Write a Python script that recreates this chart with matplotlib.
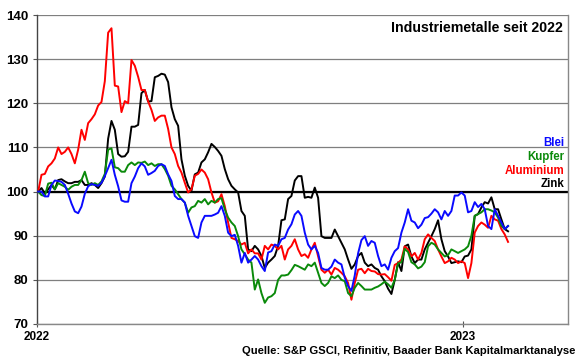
import pandas as pd
import matplotlib
matplotlib.use("Agg")
import matplotlib.pyplot as plt
import matplotlib.dates as mdates

# ---- index values (start 2022 = 100) ----
start_date = "2022-01-02"
step = "4112min"   # spacing between readings (~2.86 days)

blei = [100,
        100, 98.9, 98.9, 101.5, 102.5, 102.4, 102.2, 101.5, 99.5, 97.3, 95.5, 95.1, 96.6, 99.5, 101.2, 101.7,
        101.5, 101.3, 102, 103.5, 105.3, 107.2, 103.8, 101.2, 98, 97.7, 97.7, 101.9, 103.4, 105.3, 106.4, 105.7,
        103.8, 104.2,
        104.7, 105.8, 106.2, 105.8, 103.9, 102.4, 99, 98.3, 98.3, 97.5, 94.5, 92.2, 89.9, 89.5, 93, 94.5, 94.5,
        94.5, 94.8, 95.2, 96.7, 94.5, 90.7, 89.9, 90.2, 87.7, 83.9, 86.1, 83.9, 84.6, 85.4, 84.6, 83.1, 82, 86.2, 86.5,
        88, 87.7, 89.2, 89.5, 91.4, 92.6, 94.8, 95.6, 94.5, 90.7, 88, 86.9, 87.7, 86.1, 82.7, 82.3, 82.3, 83,
        84.6, 83.9, 83.5, 80.5, 78.6, 77.5, 81, 86, 89, 89.9, 87.7, 88.8, 88.4, 85.4, 83.1, 83.5, 82.3, 85,
        86.5, 87.2, 90.7, 93, 96, 93.4, 93, 91.7, 92.5, 94, 94.2, 95, 96, 95.3, 93.7, 95.6, 94.5, 95.6,
        99.1, 99.1, 99.8, 99.1, 95.3, 95.6, 97.6, 96.5, 97.2, 96, 92.2, 91.5, 96, 94.5, 93, 91.5, 92.2]

kupfer = [100,
          99.2, 99, 101.8, 102, 100.5, 101.9, 101.5, 101.1, 100.4, 101.1, 101.5, 101.5, 102.6, 104.5, 101.9, 101.5,
          101.9, 101.5, 102.3, 104, 109.5, 109.8, 105.5, 105.3, 104.5, 104.5, 106, 106.6, 106, 106.6, 106.5, 106.8,
          106, 106.4,
          105.8, 106.2, 106.2, 105.1, 103.6, 101.3, 100.5, 99.4, 98.3, 97.5, 95.2, 96.4, 96.7, 97.9, 97.5, 98.3,
          97.1, 97.9, 97.5, 98.3, 98.5, 96, 94.1, 93, 92.2, 89.9, 86.9, 85.8, 84.6, 83.9, 77.8, 80.1, 77, 74.8, 76, 76.3,
          77, 80, 81, 81, 81.2, 82.2, 83.4, 83.1, 82.7, 82.3, 83.5, 83.1, 83.9, 81.6, 79.3, 78.6, 79.3, 80.8,
          80.4, 81, 80, 79.7, 77, 76.3, 78.2, 79.3, 78.6, 77.8, 77.8, 77.8, 78.2, 78.5, 79, 79.6, 79, 78.2,
          80, 83.7, 84, 87, 86.3, 84, 83.5, 82.6, 83, 84, 87.6, 88.4, 88, 86.9, 86.1, 85.3, 85.6, 86.9,
          86.5, 86.1, 86.5, 86.9, 87.6, 90, 94.5, 94.9, 95.3, 96, 96, 95.7, 95.3, 94.1, 92.2, 91.5, 92.2]

aluminium = [100,
             103.8, 104, 105.7, 106.4, 107.5, 110, 108.5, 109, 110, 108.5, 106.4, 109.5, 114, 111.7, 115.5, 116.4,
             117.5, 119.5, 120.3, 125, 136, 137, 124, 123.8, 118, 120.5, 120, 129.8, 128.5, 126, 123, 123,
             120.4, 118.5,
             116, 116.8, 117.2, 117.2, 114.2, 110, 108.5, 105.8, 104.3, 102, 99.8, 100.5, 103.6, 104, 105, 104.3,
             102.8, 99.8, 97.5, 97.8, 99.4, 96.7, 93, 89.5, 89.2, 88.8, 88, 88.4, 86, 86.9, 86, 86, 84.6, 87.7, 86.9, 88,
             87.7, 86.9, 87.7, 84.6, 86.9, 87.7, 89.2, 86.9, 85.4, 85.8, 85, 86.9, 88.4, 85.4, 82.3, 81.6, 82.3, 81.2,
             82.7, 82.3, 81.6, 80.8, 79.3, 75.5, 79.3, 82.3, 82.5, 81.5, 82.5, 82, 81.9, 81.3, 81.2, 81.3, 80.6, 79.8,
             83.4, 83.8, 84.6, 87.6, 86.9, 85.3, 86.1, 84.6, 86.1, 89.2, 90.3, 89.5, 88.8, 86.9, 85.3, 83.8, 84.2, 85,
             84.6, 83.8, 84.2, 83.8, 80.4, 83.8, 90.7, 92.2, 93, 92.5, 91.8, 94.5, 93.7, 93.4, 91.5, 90.3, 88.6]

zink = [100,
        100.8, 99.6, 100.5, 101.5, 100.5, 102.6, 102.8, 102.3, 101.9, 101.9, 102.2, 102.2, 102.6, 101.5, 101.5, 101.9,
        101.5, 100.8, 101.9, 103.4, 112, 116, 114, 108.5, 107.9, 108, 109, 114.7, 114.7, 115.1, 122.3, 123,
        120.4, 120.5,
        125.9, 126.2, 126.7, 126.5, 124.8, 119.1, 116.4, 114.9, 107.3, 103.6, 101.3, 100.2, 103.9, 104.3, 106.6, 107.3,
        108.9, 110.8, 110.1, 109.2, 108.1, 105.1, 102.8, 101.3, 100.5, 99.8, 95.6, 94.5, 86.9, 86.5, 87.7, 86.9, 85.4,
        82.7, 83.9, 84.6,
        85.4, 87.7, 93.5, 93.7, 98.3, 99, 102.5, 103.5, 103.5, 98.6, 98.8, 98.6, 100.9, 98.6, 89.9, 89.5, 89.5, 89.5,
        91.4, 89.9, 88.4, 86.9, 84.6, 82.5, 83.5, 85.4, 86.1, 83.9, 83.1, 83.5, 82.7, 82.3, 80.8, 79.7, 78, 76.8,
        80, 84, 82, 87.6, 88, 85.3, 83.8, 84.6, 84.6, 86.9, 88.4, 89.9, 91.5, 93.5, 89.2, 86.5, 85.3, 83.8,
        84, 84.2, 84, 85.3, 85.5, 86.9, 94.5, 94.9, 96.4, 97.6, 97.3, 98.7, 96, 96, 93.7, 91.5, 91]

series_names = ["Blei", "Kupfer", "Aluminium", "Zink"]
series_colors = ["#0a0aff", "#0a8a0a", "#ff0000", "#000000"]

dates = pd.date_range(start_date, periods=len(zink), freq=step)
df = pd.DataFrame({"Blei": blei, "Kupfer": kupfer, "Aluminium": aluminium, "Zink": zink}, index=dates)

plt.rcParams["font.family"] = ["Liberation Sans", "DejaVu Sans"]

fig = plt.figure(figsize=(5.8, 3.59), dpi=100)
ax = fig.add_axes([37 / 580, 1 - 324 / 359, (568 - 37) / 580, (324 - 15) / 359])

# gridlines + the 100 line
for v in range(70, 141, 10):
    ax.axhline(v, color="#7f7f7f", lw=0.9, zorder=1)
ax.axhline(100, color="black", lw=1.6, zorder=2)

# draw Zink first so the others sit on top
for name in ["Zink", "Aluminium", "Kupfer", "Blei"]:
    c = series_colors[series_names.index(name)]
    ax.plot(df.index, df[name], color=c, lw=1.4, zorder=3)

ax.set_xlim(pd.Timestamp("2022-01-01"), pd.Timestamp("2023-04-01"))
ax.set_ylim(70, 140)
ax.set_yticks(range(70, 141, 10))
ax.set_xticks([pd.Timestamp("2022-01-01"), pd.Timestamp("2023-01-01")])
ax.xaxis.set_major_formatter(mdates.DateFormatter("%Y"))

for lab in ax.get_yticklabels():
    lab.set_fontweight("bold")
    lab.set_fontsize(9.5)
for lab in ax.get_xticklabels():
    lab.set_fontweight("bold")
    lab.set_fontsize(8.5)
ax.tick_params(axis="y", length=3, color="#555555", pad=3)
ax.tick_params(axis="x", length=4, color="#555555", pad=3, direction="inout")

ax.spines["top"].set_visible(False)
ax.spines["left"].set_color("#444444")
ax.spines["right"].set_color("#888888")
ax.spines["bottom"].set_color("#888888")
for s in ax.spines.values():
    s.set_linewidth(1.0)

# title and colored labels
fig.text(563 / 580, 1 - 28 / 359, "Industriemetalle seit 2022", ha="right", va="center",
         fontsize=10.2, fontweight="bold")
label_y = [143, 157, 171, 184]
for name, c, y in zip(series_names, series_colors, label_y):
    fig.text(564 / 580, 1 - y / 359, name, ha="right", va="center", color=c,
             fontsize=8.3, fontweight="bold")

fig.text(575 / 580, 1 - 351 / 359, "Quelle: S&P GSCI, Refinitiv, Baader Bank Kapitalmarktanalyse",
         ha="right", va="center", fontsize=8.1, fontweight="bold")

fig.savefig("out.png", dpi=100)
